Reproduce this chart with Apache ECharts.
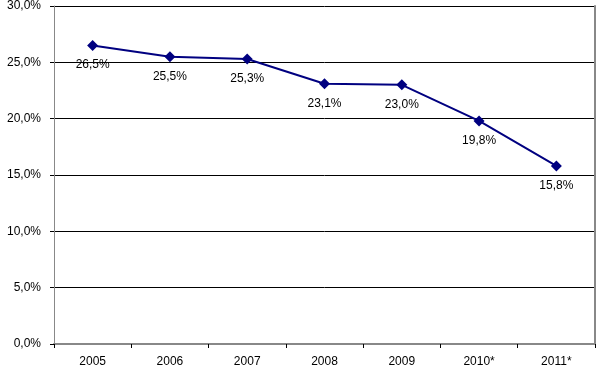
<!DOCTYPE html>
<html><head><meta charset="utf-8">
<script src="https://cdn.jsdelivr.net/npm/echarts@6/dist/echarts.min.js"></script>
<style>html,body{margin:0;padding:0;background:#fff}#c{width:601px;height:368px}</style>
</head><body><div id="c"></div>
<script>
const categories = ['2005','2006','2007','2008','2009','2010*','2011*'];
const values = [26.5, 25.5, 25.3, 23.1, 23.0, 19.8, 15.8];
const yTicks = [0, 5, 10, 15, 20, 25, 30];
const fmt = v => v.toFixed(1).replace('.', ',') + '%';
const font = 'Liberation Sans, Arial, sans-serif';
const chart = echarts.init(document.getElementById('c'));
chart.setOption({
  animation: false,
  grid: {left: 54, right: 6, top: 6, bottom: 24},
  xAxis: [{
    type: 'category', data: categories, boundaryGap: true,
    axisLine: {lineStyle: {color: '#000', width: 1}},
    axisTick: {show: true, length: 4, lineStyle: {color: '#000'}},
    axisLabel: {color: '#000', fontFamily: font, fontSize: 12, margin: 12}
  }, {
    type: 'category', data: categories, position: 'top',
    axisLine: {lineStyle: {color: '#888', width: 2}},
    axisTick: {show: false}, axisLabel: {show: false}
  }],
  yAxis: [{
    type: 'value', min: yTicks[0], max: yTicks[yTicks.length-1], interval: 5,
    axisLine: {show: true, lineStyle: {color: '#888', width: 1}},
    axisTick: {show: true, length: 4, lineStyle: {color: '#000'}},
    axisLabel: {color: '#000', fontFamily: font, fontSize: 12, margin: 13, formatter: v => fmt(v)},
    splitLine: {show: true, lineStyle: {color: '#000', width: 1}}
  }, {
    type: 'value', min: 0, max: 30, interval: 5, position: 'right',
    axisLine: {show: true, lineStyle: {color: '#888', width: 2}},
    axisTick: {show: false}, axisLabel: {show: false}, splitLine: {show: false}
  }],
  series: [{
    type: 'line', data: values,
    symbol: 'diamond', symbolSize: 11,
    lineStyle: {color: '#000080', width: 2},
    itemStyle: {color: '#000080'},
    label: {show: true, position: 'bottom', distance: 8, color: '#000', fontFamily: font, fontSize: 12, formatter: p => fmt(p.value)}
  }]
});
</script></body></html>
